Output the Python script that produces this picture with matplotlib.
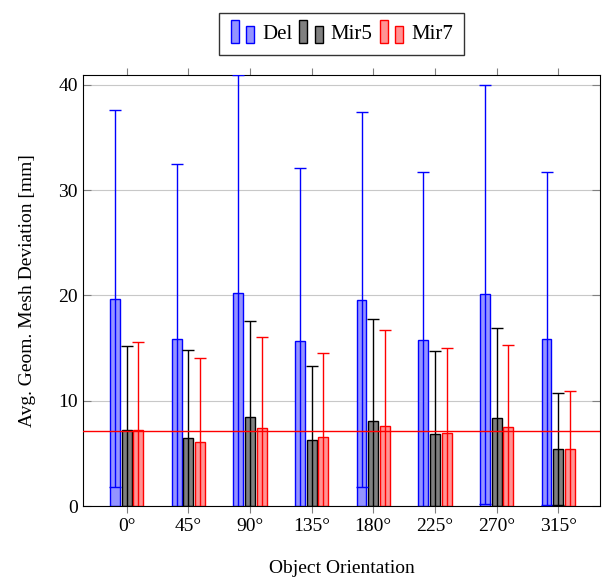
import numpy as np
import matplotlib
matplotlib.use("Agg")
import matplotlib.pyplot as plt
from matplotlib.patches import Rectangle

plt.rcParams['font.family'] = ['Liberation Serif', 'DejaVu Serif']

orientations = ["0°", "45°", "90°", "135°", "180°", "225°", "270°", "315°"]
series = ["Del", "Mir5", "Mir7"]

# mean values and upper ends of the error bars (symmetric errors)
del_mean = [19.7, 15.9, 20.2, 15.7, 19.6, 15.8, 20.1, 15.9]
del_upper = [37.6, 32.5, 40.9, 32.1, 37.4, 31.7, 40.0, 31.7]
mir5_mean = [7.2, 6.5, 8.5, 6.3, 8.1, 6.8, 8.4, 5.4]
mir5_upper = [15.2, 14.8, 17.6, 13.3, 17.8, 14.7, 16.9, 10.7]
mir7_mean = [7.25, 6.1, 7.45, 6.6, 7.6, 6.95, 7.5, 5.4]
mir7_upper = [15.6, 14.1, 16.05, 14.5, 16.7, 15.0, 15.3, 10.95]
reference_line = 7.14

fill_colors = ["#9494ff", "#808080", "#ff9494"]
edge_colors = ["blue", "black", "red"]


class TwoBarHandler:
    # pgfplots style legend entry: two small bars
    def legend_artist(self, legend, orig_handle, fontsize, handlebox):
        x0, y0 = handlebox.xdescent, handlebox.ydescent
        w, h = handlebox.width, handlebox.height
        fc, ec = orig_handle
        r1 = Rectangle((x0 + 0.0 * w, y0 - 0.3 * h), 0.32 * w, 1.6 * h,
                       facecolor=fc, edgecolor=ec, lw=1,
                       transform=handlebox.get_transform())
        r2 = Rectangle((x0 + 0.62 * w, y0 - 0.3 * h), 0.32 * w, 1.15 * h,
                       facecolor=fc, edgecolor=ec, lw=1,
                       transform=handlebox.get_transform())
        handlebox.add_artist(r1)
        handlebox.add_artist(r2)
        return r1


fig = plt.figure(figsize=(6.05, 5.79), dpi=100)
ax = fig.add_axes([0.137, 0.126, 0.855, 0.744])

x = np.arange(len(orientations))
width = 0.16
offset = 0.19
means = [del_mean, mir5_mean, mir7_mean]
uppers = [del_upper, mir5_upper, mir7_upper]
for i, name in enumerate(series):
    m = np.array(means[i])
    err = np.array(uppers[i]) - m
    pos = x + (i - 1) * offset
    ax.bar(pos, m, width, color=fill_colors[i], edgecolor=edge_colors[i],
           linewidth=1, zorder=2)
    ax.errorbar(pos, m, yerr=err, fmt='none', ecolor=edge_colors[i],
                elinewidth=1, capsize=4, capthick=1, zorder=3)

ax.axhline(reference_line, color="red", lw=1, zorder=4)

ax.set_xlim(-0.71, 7.68)
ax.set_ylim(0, 40.9)
ax.set_xticks(x)
ax.set_xticklabels(orientations, fontsize=14)
ax.set_yticks([0, 10, 20, 30, 40])
ax.tick_params(axis='y', labelsize=14, direction='in', right=True,
               length=6, color='gray')
ax.tick_params(axis='x', direction='out', top=True, length=5, color='gray')
ax.yaxis.grid(True, color="#c8c8c8", lw=0.8, zorder=0)
ax.set_axisbelow(True)
ax.set_xlabel("Object Orientation", fontsize=14, labelpad=18)
ax.set_ylabel("Avg. Geom. Mesh Deviation [mm]", fontsize=14, labelpad=16)

handles = [(fill_colors[i], edge_colors[i]) for i in range(3)]
fig.legend(handles, series, handler_map={tuple: TwoBarHandler()},
           loc="upper center", bbox_to_anchor=(0.565, 0.978), ncol=3,
           fontsize=15, frameon=True, fancybox=False, edgecolor="black",
           handlelength=1.2, handletextpad=0.3, columnspacing=0.35,
           borderpad=0.55, borderaxespad=0)

fig.savefig("out.png", dpi=100)
